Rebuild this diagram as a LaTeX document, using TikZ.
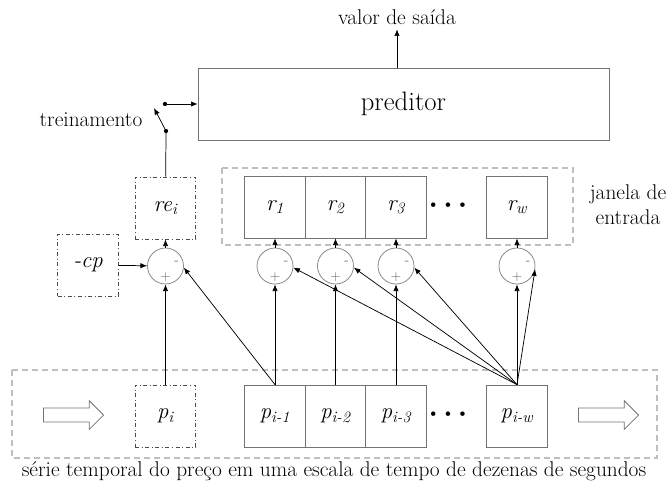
\documentclass[tikz,border=0pt]{standalone}
\usetikzlibrary{arrows.meta,shapes.arrows,calc}
\begin{document}
\begin{tikzpicture}[x=0.75pt,y=-0.75pt,
        font=\fontsize{16}{18}\selectfont,
        block/.style={rectangle, draw=black!55, minimum width=45.4pt, minimum height=46.5pt, inner sep=0pt, font=\fontsize{17}{19}\selectfont\itshape},
        dblock/.style={block, draw=black!70, dash dot},
        sum/.style={circle, draw=black!50, minimum size=27pt, inner sep=0pt},
        sign/.style={inner sep=0pt, text=black!60, font=\fontsize{10}{10}\selectfont},
        window/.style={draw=black!25, dash pattern=on 4.5pt off 3pt, line width=0.8pt},
        hollow/.style={single arrow, draw=black!55, minimum height=45pt, inner sep=5pt, single arrow head extend=5.5pt},
        dots/.style={font=\fontsize{15}{16}\selectfont},
        >={Latex[length=5pt,width=4pt]},
        line width=0.55pt,
        ]
        \useasboundingbox (0,0) rectangle (667,486);

        % janelas
        \draw[window] (222,168) rectangle (573,245);
        \draw[window] (12,370) rectangle (657,458);

        \node (pred) at (403.5,104) [draw=black!55, minimum width=308.2pt, minimum height=54pt, font=\fontsize{20}{22}\selectfont] {preditor};
        \node (out) at (397,17) {valor de saída};
        \node (train) at (91,120) {treinamento};
        \node (janela) at (628,205) [align=center, font=\fontsize{16}{19}\selectfont] {janela de\\entrada};

        \node (re) at (165.5,208) [dblock] {re\textsubscript{i}};
        \node (cp) at (88,265) [dblock] {-cp};
        \node (r1) at (275,207) [block] {r\textsubscript{1}};
        \node (r2) at (335.5,207) [block] {r\textsubscript{2}};
        \node (r3) at (396,207) [block] {r\textsubscript{3}};
        \node (rdots) at (448,207) [dots] {\textbullet\hspace{0.2pt}\textbullet\hspace{0.2pt}\textbullet};
        \node (rw) at (517,207) [block] {r\textsubscript{w}};

        \node (s0) at (165.5,266) [sum] {};
        \node (s1) at (275,266) [sum] {};
        \node (s2) at (335.5,266) [sum] {};
        \node (s3) at (396,266) [sum] {};
        \node (sw) at (517,266) [sum] {};
        \foreach \s in {s0,s1,s2,s3,sw} {
            \node (\s-minus) at ([shift={(11,-3)}]\s.center) [sign] {-};
            \node (\s-plus) at ([shift={(0,11)}]\s.center) [sign] {+};
        }

        \node (pi) at (165.5,416) [dblock] {p\textsubscript{i}};
        \node (p1) at (275,416) [block] {p\textsubscript{i-1}};
        \node (p2) at (335.5,416) [block] {p\textsubscript{i-2}};
        \node (p3) at (396,416) [block] {p\textsubscript{i-3}};
        \node (pdots) at (448,416) [dots] {\textbullet\hspace{0.2pt}\textbullet\hspace{0.2pt}\textbullet};
        \node (pw) at (517,416) [block] {p\textsubscript{i-w}};
        \node (inL) at (70,415) [hollow] {};
        \node (inR) at (605,415) [hollow] {};
        \node (caption) at (334,471) {série temporal do preço em uma escala de tempo de dezenas de segundos};

        % chave de treinamento
        \coordinate (swa) at (166,131);
        \coordinate (swb) at (165,104);
        \coordinate (swt) at (154,108);
        \draw (re) -- (swa);
        \fill (swa) circle (1.6pt);
        \fill (swb) circle (1.6pt);
        \draw[->] (swa) -- (swt);
        \draw[->] (swb) -- (swb -| pred.west);
        \draw[->] (pred.north -| out) -- (out);

        \draw[->] (s0) -- (re);
        \draw[->] (s1) -- (r1);
        \draw[->] (s2) -- (r2);
        \draw[->] (s3) -- (r3);
        \draw[->] (sw) -- (rw);
        \draw[->] (cp) -- (s0);

        \draw[->] (pi) -- (s0);
        \draw[->] (p1) -- (s1);
        \draw[->] (p2) -- (s2);
        \draw[->] (p3) -- (s3);
        \draw[->] (pw) -- (sw);

        \draw[->] (p1.north) -- (s0.-5);
        \draw[->] let \p1=(pw.north), \p2=(s1.-5), \p3=(p3.north),
            \n1={(\x1-\x3)/(\x1-\x2)}, \n2={4/(\x1-\x2)} in
            (\p1) -- ($(\p1)!{\n1-\n2}!(\p2)$) to[out=75,in=105,looseness=1.8] ($(\p1)!{\n1+\n2}!(\p2)$) -- (\p2);
        \draw[->] let \p1=(pw.north), \p2=(s2.-5), \p3=(p3.north),
            \n1={(\x1-\x3)/(\x1-\x2)}, \n2={4/(\x1-\x2)} in
            (\p1) -- ($(\p1)!{\n1-\n2}!(\p2)$) to[out=75,in=105,looseness=1.8] ($(\p1)!{\n1+\n2}!(\p2)$) -- (\p2);
        \draw[->] (pw.north) -- (s3.-5);
        \draw[->] (pw.north) -- (sw.-10);
    \end{tikzpicture}
\end{document}
